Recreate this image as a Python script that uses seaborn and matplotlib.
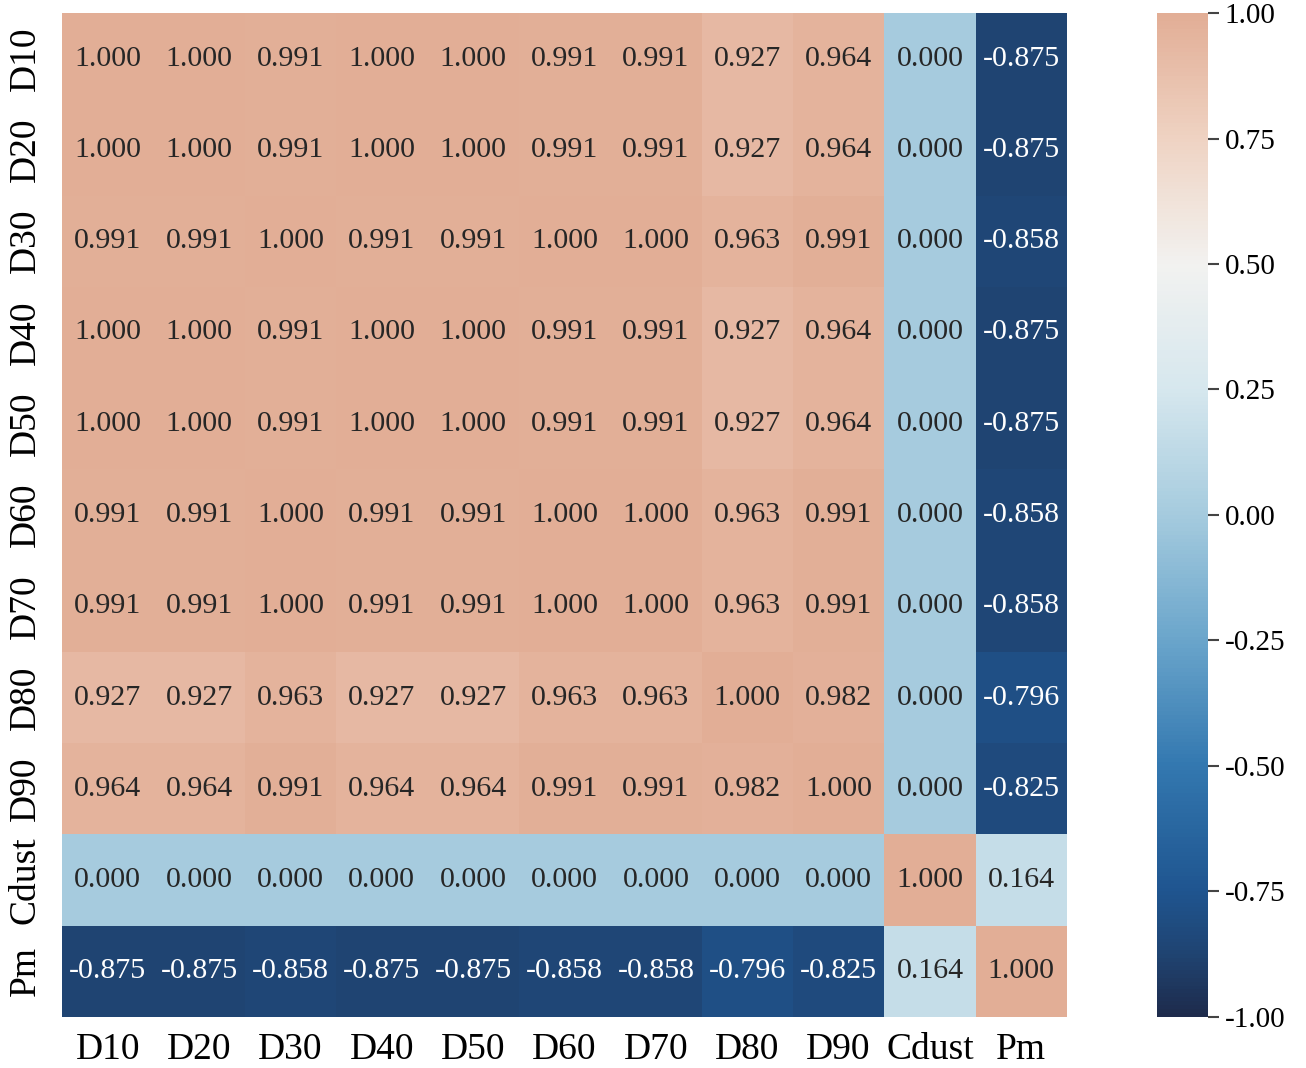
import numpy as np
import pandas as pd
import matplotlib
matplotlib.use("Agg")
import matplotlib.pyplot as plt
import seaborn as sns
from matplotlib.colors import LinearSegmentedColormap

labels = ["D10", "D20", "D30", "D40", "D50", "D60", "D70", "D80", "D90", "Cdust", "Pm"]

row_D10 = [1.000, 1.000, 0.991, 1.000, 1.000, 0.991, 0.991, 0.927, 0.964, 0.000, -0.875]
row_D20 = [1.000, 1.000, 0.991, 1.000, 1.000, 0.991, 0.991, 0.927, 0.964, 0.000, -0.875]
row_D30 = [0.991, 0.991, 1.000, 0.991, 0.991, 1.000, 1.000, 0.963, 0.991, 0.000, -0.858]
row_D40 = [1.000, 1.000, 0.991, 1.000, 1.000, 0.991, 0.991, 0.927, 0.964, 0.000, -0.875]
row_D50 = [1.000, 1.000, 0.991, 1.000, 1.000, 0.991, 0.991, 0.927, 0.964, 0.000, -0.875]
row_D60 = [0.991, 0.991, 1.000, 0.991, 0.991, 1.000, 1.000, 0.963, 0.991, 0.000, -0.858]
row_D70 = [0.991, 0.991, 1.000, 0.991, 0.991, 1.000, 1.000, 0.963, 0.991, 0.000, -0.858]
row_D80 = [0.927, 0.927, 0.963, 0.927, 0.927, 0.963, 0.963, 1.000, 0.982, 0.000, -0.796]
row_D90 = [0.964, 0.964, 0.991, 0.964, 0.964, 0.991, 0.991, 0.982, 1.000, 0.000, -0.825]
row_Cdust = [0.000, 0.000, 0.000, 0.000, 0.000, 0.000, 0.000, 0.000, 0.000, 1.000, 0.164]
row_Pm = [-0.875, -0.875, -0.858, -0.875, -0.875, -0.858, -0.858, -0.796, -0.825, 0.164, 1.000]

cbar_ticks = [-1.0, -0.75, -0.5, -0.25, 0.0, 0.25, 0.5, 0.75, 1.0]

corr = pd.DataFrame(
    [row_D10, row_D20, row_D30, row_D40, row_D50, row_D60, row_D70,
     row_D80, row_D90, row_Cdust, row_Pm],
    index=labels, columns=labels)

cmap = LinearSegmentedColormap.from_list(
    "custom",
    [(0.0, "#1e2b4c"), (0.0625, "#1f4472"), (0.125, "#1f5590"), (0.25, "#3378b0"),
     (0.375, "#6aa5cb"), (0.5, "#a5cbde"), (0.625, "#d6e7ee"), (0.75, "#f2f2f0"),
     (0.875, "#efd3c3"), (1.0, "#e2ae96")])

plt.rcParams["font.family"] = ["Liberation Serif", "DejaVu Serif"]
plt.rcParams["axes.unicode_minus"] = False

fig = plt.figure(figsize=(13.06, 10.68), dpi=100)
ax = fig.add_axes([0.0475, 0.0478, 0.7695, 0.94])
cax = fig.add_axes([0.886, 0.0478, 0.039, 0.94])

sns.heatmap(corr, ax=ax, cbar_ax=cax, cmap=cmap, vmin=-1, vmax=1,
            annot=True, fmt=".3f", annot_kws={"fontsize": 21.5},
            cbar_kws={"ticks": cbar_ticks, "format": "%.2f"})

ax.tick_params(axis="both", length=0, labelsize=27)
ax.tick_params(axis="x", pad=11)
ax.tick_params(axis="y", pad=14)
ax.set_yticklabels(labels, rotation=90, va="center")
ax.set_xticklabels(labels, rotation=0)
ax.set_xlabel("")
ax.set_ylabel("")

cax.tick_params(labelsize=21, length=8, width=1.5, color="#444444", pad=4)

fig.savefig("out.png", dpi=100)
